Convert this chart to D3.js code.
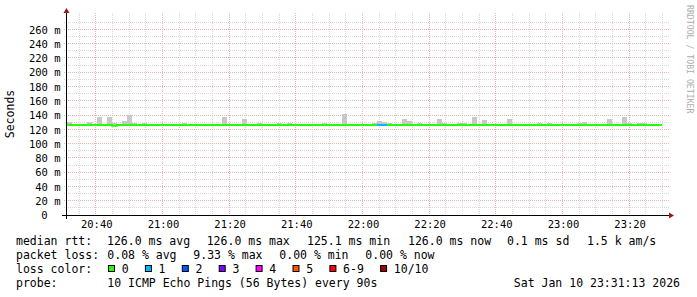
<!DOCTYPE html>
<html>
<head>
<style>
    body { margin: 0; background: #fff; }
    text { font-family: 'DejaVu Sans Mono', monospace; fill: #000; }
</style>
</head>
<body>
    <script src="https://d3js.org/d3.v7.js"></script>
    <script>
        // median rtt per 90s step, ms
        const median = [
            126.0,126.0,126.0,126.0,126.0,126.0,126.0,126.0,126.0,125.1,
            126.0,126.0,126.0,126.0,126.0,126.0,126.0,126.0,126.0,126.0,
            126.0,126.0,126.0,126.0,126.0,126.0,126.0,126.0,126.0,126.0,
            126.0,126.0,126.0,126.0,126.0,126.0,126.0,126.0,126.0,126.0,
            126.0,126.0,126.0,126.0,126.0,126.0,126.0,126.0,126.0,126.0,
            126.0,126.0,126.0,126.0,126.0,126.0,126.0,126.0,126.0,126.0,
            126.0,126.0,126.0,126.0,126.0,126.0,126.0,126.0,126.0,126.0,
            126.0,126.0,126.0,126.0,126.0,126.0,126.0,126.0,126.0,126.0,
            126.0,126.0,126.0,126.0,126.0,126.0,126.0,126.0,126.0,126.0,
            126.0,126.0,126.0,126.0,126.0,126.0,126.0,126.0,126.0,126.0,
            126.0,126.0,126.0,126.0,126.0,126.0,126.0,126.0,126.0,126.0,
            126.0,126.0,126.0,126.0,126.0,126.0,126.0,126.0,126.0
        ]
        // visible smoke (highest ping) per step
        const smokeSlot = [0, 4, 6, 8, 9, 11, 12, 13, 15, 23, 31, 35, 38, 42, 44, 51, 55, 61, 62, 63,
                           64, 67, 68, 70, 74, 75, 78, 79, 81, 83, 88, 94, 96, 102, 103, 108, 111, 112, 114, 115]
        const smokeHigh = [130, 130, 137.5, 137.5, 128.6, 131.5, 140, 128.6, 128.6, 128.6, 137.5, 134, 128.6, 128.6, 128.6, 128.6, 141, 128.6, 131, 130,
                           128.6, 134, 131, 128.6, 134, 128.6, 128.6, 128.6, 137.5, 133, 134, 128.6, 128.6, 128.6, 130, 134, 137.5, 128.6, 128.6, 128.6]
        const lossSlot = [62, 63]
        const lossCount = [1, 1]

        const lossLabels = ['0', '1', '2', '3', '4', '5', '6-9', '10/10']
        const lossColors = ['#26ff00', '#00b8ff', '#0059ff', '#7e00ff', '#ff00ff', '#ff5500', '#ff0000', '#a00000']
        const yTicks = [0, 20, 40, 60, 80, 100, 120, 140, 160, 180, 200, 220, 240, 260]
        const rttLegend = ['126.0 ms avg', '126.0 ms max', '125.1 ms min', '126.0 ms now', '0.1 ms sd', '1.5 k am/s']
        const lossLegend = ['0.08 % avg', '9.33 % max', '0.00 % min', '0.00 % now']
        const probeText = '10 ICMP Echo Pings (56 Bytes) every 90s'
        const stamp = 'Sat Jan 10 23:31:13 2026'

        const w = 697
        const h = 297
        const padLeft = 67
        const padTop = 15
        const plotW = 600
        const plotH = 200
        const step = 90 * 1000
        const start = new Date(2026, 0, 10, 20, 31, 13)
        const end = new Date(start.getTime() + 3 * 3600 * 1000)

        const xScale = d3.scaleTime()
                        .domain([start, end])
                        .range([padLeft, padLeft + plotW])
        const yScale = d3.scaleLinear()
                        .domain([0, 280])
                        .range([padTop + plotH, padTop])

        const slotTime = i => new Date(start.getTime() + i * step)
        const px = v => Math.round(v) - 0.5
        const py = v => Math.floor(v) + 0.5

        const svg = d3.select('body')
                    .append('svg')
                    .attr('width', w)
                    .attr('height', h)

        // grid
        const grid = svg.append('g')
                    .attr('fill', 'none')
                    .attr('stroke-width', 1)
                    .attr('stroke-dasharray', '1,1')
        xScale.ticks(d3.timeMinute.every(5)).forEach(t => {
            const major = t.getMinutes() % 20 === 0
            grid.append('line')
                .attr('x1', px(xScale(t))).attr('x2', px(xScale(t)))
                .attr('y1', 13).attr('y2', padTop + plotH)
                .attr('stroke', major ? '#ebb4b4' : '#d8d8d8')
        })
        d3.range(10, 280, 10).forEach(v => {
            const major = v % 20 === 0
            grid.append('line')
                .attr('x1', 64).attr('x2', 670)
                .attr('y1', py(yScale(v))).attr('y2', py(yScale(v)))
                .attr('stroke', major ? '#ebb4b4' : '#d8d8d8')
        })

        // smoke
        svg.append('g')
            .selectAll('rect')
            .data(smokeSlot)
            .enter()
            .append('rect')
            .attr('x', d => xScale(slotTime(d)))
            .attr('width', d => xScale(slotTime(d + 1)) - xScale(slotTime(d)))
            .attr('y', (d, i) => Math.round(yScale(smokeHigh[i])))
            .attr('height', (d, i) => Math.round(yScale(median[d])) - Math.round(yScale(smokeHigh[i])))
            .attr('fill', '#c8c8c8')

        // median line
        const pts = median.map((m, i) => [slotTime(i), m])
        pts.push([slotTime(median.length), median[median.length - 1]])
        const line = d3.line()
                    .x(d => xScale(d[0]))
                    .y(d => yScale(d[1]))
                    .curve(d3.curveStepAfter)
        svg.append('path')
            .attr('d', line(pts))
            .attr('fill', 'none')
            .attr('stroke', lossColors[0])
            .attr('stroke-width', 2)

        svg.append('g')
            .selectAll('line')
            .data(lossSlot)
            .enter()
            .append('line')
            .attr('x1', d => xScale(slotTime(d)))
            .attr('x2', d => xScale(slotTime(d + 1)))
            .attr('y1', d => yScale(median[d]))
            .attr('y2', d => yScale(median[d]))
            .attr('stroke', (d, i) => lossColors[lossCount[i]])
            .attr('stroke-width', 2)

        // axes
        svg.append('line')
            .attr('x1', 62).attr('x2', 670)
            .attr('y1', 215.5).attr('y2', 215.5)
            .attr('stroke', '#000')
        svg.append('line')
            .attr('x1', 66.5).attr('x2', 66.5)
            .attr('y1', 219).attr('y2', 11)
            .attr('stroke', '#000')
        svg.append('path')
            .attr('d', 'M669,212.5 L674,215.5 L669,218.5 Z')
            .attr('fill', '#9b1b1b')
        svg.append('path')
            .attr('d', 'M63.5,13 L66.5,8 L69.5,13 Z')
            .attr('fill', '#9b1b1b')

        const yAxis = d3.axisLeft(yScale)
                        .tickValues(yTicks)
                        .tickSize(0)
                        .tickPadding(6.5)
                        .tickFormat(d => d === 0 ? '0' : d + ' m')
        const gy = svg.append('g')
            .attr('transform', 'translate(' + padLeft + ',0)')
            .call(yAxis)
        gy.select('.domain').remove()
        gy.selectAll('text')
            .attr('font-family', null)
            .style('font-size', '10.5px')
            .attr('dy', '0.36em')
            .attr('x', d => d === 0 ? -19.5 : -6.5)

        const xAxis = d3.axisBottom(xScale)
                        .ticks(d3.timeMinute.every(20))
                        .tickSize(0)
                        .tickPadding(5)
                        .tickFormat(d3.timeFormat('%H:%M'))
        const gx = svg.append('g')
            .attr('transform', 'translate(0,' + (padTop + plotH) + ')')
            .call(xAxis)
        gx.select('.domain').remove()
        gx.selectAll('text')
            .attr('font-family', null)
            .style('font-size', '10.5px')
            .attr('dy', null)
            .attr('y', 12.5)

        svg.append('text')
            .attr('transform', 'translate(14,114) rotate(-90)')
            .attr('text-anchor', 'middle')
            .style('font-size', '11.5px')
            .text('Seconds')

        svg.append('text')
            .attr('transform', 'translate(686.5,5) rotate(90)')
            .style('font-size', '8.2px')
            .style('fill', '#adadad')
            .text('RRDTOOL / TOBI OETIKER')

        // legend
        const legend = svg.append('g').style('font-size', '11.5px')
        const rttX = [107, 206.7, 307, 408, 507, 587]
        const lossX = [107.3, 193.3, 279.3, 365.3]

        legend.append('text').attr('x', 16).attr('y', 244.5).text('median rtt:')
        rttLegend.forEach((s, i) => {
            legend.append('text').attr('x', rttX[i]).attr('y', 244.5).text(s)
        })
        legend.append('text').attr('x', 16).attr('y', 258.5).text('packet loss:')
        lossLegend.forEach((s, i) => {
            legend.append('text').attr('x', lossX[i]).attr('y', 258.5).text(s)
        })
        legend.append('text').attr('x', 16).attr('y', 272.5).text('loss color:')
        let bx = 108
        lossLabels.forEach((s, i) => {
            legend.append('rect')
                .attr('x', bx + 0.5).attr('y', 265.5)
                .attr('width', 6).attr('height', 6)
                .attr('fill', lossColors[i])
                .attr('stroke', '#000')
            legend.append('text').attr('x', bx + 13.7).attr('y', 272.5).text(s)
            bx = bx + 13.8 + s.length * 6.9 + 16.2
        })
        legend.append('text').attr('x', 16).attr('y', 286.5).text('probe:')
        legend.append('text').attr('x', 107.3).attr('y', 286.5).text(probeText)
        legend.append('text').attr('x', 680).attr('y', 286.5).attr('text-anchor', 'end').text(stamp)
    </script>
</body>
</html>
